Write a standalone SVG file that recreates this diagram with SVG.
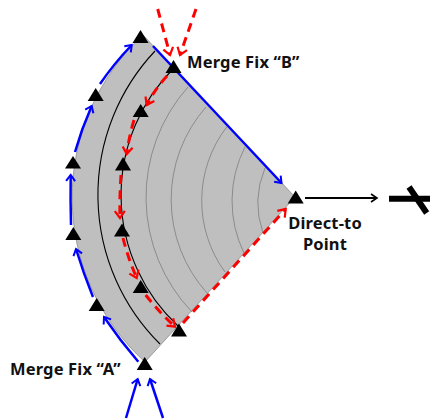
<svg xmlns="http://www.w3.org/2000/svg" width="430" height="419" viewBox="0 0 430 419">
<style>
.lbl{font-family:"Noto Sans","Open Sans","DejaVu Sans",sans-serif;font-size:16.5px;font-weight:700;fill:#111;letter-spacing:.15px}
.tri{fill:#000}
.thin{fill:none;stroke:#7d7d7d;stroke-width:.8}
.bk{fill:none;stroke:#000;stroke-width:1.1}
.blue{fill:none;stroke:#0000ff;stroke-width:2.5;marker-end:url(#mb)}
.red{fill:none;stroke:#ff0000;stroke-width:3;stroke-dasharray:9 6;marker-end:url(#mr)}
</style>
<defs>
<marker id="mb" markerUnits="userSpaceOnUse" markerWidth="14" markerHeight="14" refX="10" refY="7" orient="auto"><path d="M4,2.500 L10,7 L4,11.500" fill="none" stroke="#0000ff" stroke-width="2"/></marker>
<marker id="mr" markerUnits="userSpaceOnUse" markerWidth="14" markerHeight="14" refX="10" refY="7" orient="auto"><path d="M3,2 L10,7 L3,12" fill="none" stroke="#ff0000" stroke-width="2.2"/></marker>
<marker id="mk" markerUnits="userSpaceOnUse" markerWidth="14" markerHeight="14" refX="10" refY="7" orient="auto"><path d="M4,3 L10,7 L4,11" fill="none" stroke="#000" stroke-width="1.6"/></marker>
</defs>
<g id="sector">
<path d="M143,35 A222,222 0 0 0 145,362 L295,197 Z" fill="#bfbfbf" stroke="#8c8c8c" stroke-width="0.8"/>
<path class="bk" d="M155,51 A210,210 0 0 0 160,344"/>
<path class="bk" d="M174,68 A179,179 0 0 0 178,326"/>
<path class="thin" d="M188,87 A166,166 0 0 0 192,312"/>
<path class="thin" d="M206,107 A140,140 0 0 0 207,293"/>
<path class="thin" d="M226.700,127 A121,121 0 0 0 225,272"/>
<path class="thin" d="M245,147 A119,119 0 0 0 244,253"/>
<path class="thin" d="M265,168 A91,91 0 0 0 263,233"/>
</g>
<g id="connectors">
<path class="blue" d="M126,418 L137.700,379"/>
<path class="blue" d="M163,418 L150,379"/>
<path class="blue" d="M138.300,361.700 Q120,340.500 104,317"/>
<path class="blue" d="M93,297 Q83.500,273.500 76,249"/>
<path class="blue" d="M71,225 Q70.300,200 70.700,175"/>
<path class="blue" d="M75,152 Q81.500,129 91.700,106"/>
<path class="blue" d="M100,84 Q114,63.500 131.700,45"/>
<path class="blue" d="M153,46 L281.500,183"/>
<path class="red" d="M157.700,9 L170,55"/>
<path class="red" d="M196,9 L180,55"/>
<path class="red" d="M167,76 Q155,89 146.700,105"/>
<path class="red" d="M134,120 Q129,137 126.700,154"/>
<path class="red" d="M121,175 Q119.500,197 120,218"/>
<path class="red" d="M123,238 Q128,258 136.700,278"/>
<path class="red" d="M145.700,295 Q159,312 175,326.700"/>
<path class="red" d="M183,323 L285.700,209"/>
<path d="M305,198 L377,198" fill="none" stroke="#000" stroke-width="2" marker-end="url(#mk)"/>
</g>
<g id="fix-top"><path class="tri" d="M140.500,30 L148.500,43 L132.500,43 Z"/></g>
<g id="merge-fix-b"><path class="tri" d="M173.500,60 L181.500,73 L165.500,73 Z"/><text class="lbl" x="187" y="68">Merge Fix “B”</text></g>
<g id="fix-inner-1"><path class="tri" d="M140.700,104 L148.700,117 L132.700,117 Z"/></g>
<g id="fix-outer-1"><path class="tri" d="M95.700,88 L103.700,101 L87.700,101 Z"/></g>
<g id="fix-outer-2"><path class="tri" d="M73,156 L81,168.500 L65,168.500 Z"/></g>
<g id="fix-inner-2"><path class="tri" d="M123,157 L131,170.500 L115,170.500 Z"/></g>
<g id="fix-outer-3"><path class="tri" d="M73.300,227 L81.300,240 L65.300,240 Z"/></g>
<g id="fix-inner-3"><path class="tri" d="M122,223.500 L130,236.500 L114,236.500 Z"/></g>
<g id="fix-outer-4"><path class="tri" d="M96.700,298 L104.700,311 L88.700,311 Z"/></g>
<g id="fix-inner-4"><path class="tri" d="M140.700,280 L148.700,293 L132.700,293 Z"/></g>
<g id="fix-inner-5"><path class="tri" d="M179,323.500 L187,336.500 L171,336.500 Z"/></g>
<g id="merge-fix-a"><path class="tri" d="M144.700,357 L152.700,370 L136.700,370 Z"/><text class="lbl" x="10" y="375">Merge Fix “A”</text></g>
<g id="direct-to-point"><path class="tri" d="M295.700,190.500 L303.700,203.500 L287.700,203.500 Z"/><text class="lbl" x="325" y="229" text-anchor="middle">Direct-to</text><text class="lbl" x="325" y="250" text-anchor="middle">Point</text></g>
<g id="runway"><path d="M389,198.700 L430,198.700" stroke="#000" stroke-width="6" fill="none"/><path d="M409,187 L426.700,213" stroke="#000" stroke-width="6" fill="none"/></g>
</svg>
